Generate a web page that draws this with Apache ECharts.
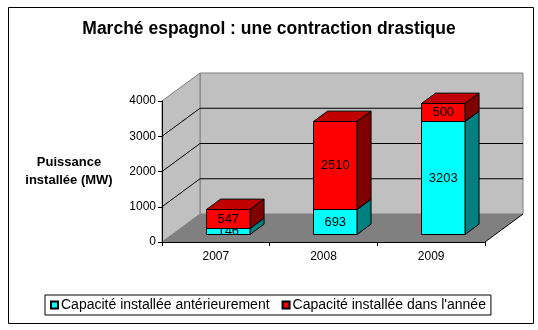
<!DOCTYPE html>
<html>
<head>
<meta charset="utf-8">
<script src="https://cdn.jsdelivr.net/npm/echarts@6/dist/echarts.min.js"></script>
<style>
html,body{margin:0;padding:0;background:#fff;}
#c{width:538px;height:330px;}
</style>
</head>
<body>
<div id="c"></div>
<script>
// ---- data ----
const categories = ['2007', '2008', '2009'];
const anterieur = [146, 693, 3203];
const annee = [547, 2510, 500];
const seriesNames = ['Capacité installée antérieurement', "Capacité installée dans l'année"];
const yTicks = [0, 1000, 2000, 3000, 4000];
const titleText = 'Marché espagnol : une contraction drastique';
const axisTitle = 'Puissance\ninstallée (MW)';

// ---- 3D look parameters (styling) ----
const DX = 38, DY = -28;          // depth of the whole box
const BF = 0.30, BD = 0.37;       // bar front offset & bar depth (fraction of depth)
const BW = 0.40;                  // bar width fraction of band
const FONT = "'Liberation Sans', Arial, sans-serif";

const chart = echarts.init(document.getElementById('c'), null, {renderer: 'canvas'});

function wallsItem(params, api) {
  const cs = params.coordSys;
  const xl = cs.x, xr = cs.x + cs.width;
  const y0 = api.coord([0, yTicks[0]])[1];
  const yTop = api.coord([0, yTicks[yTicks.length - 1]])[1];
  const children = [];
  children.push({type: 'polygon', shape: {points: [[xl + DX, y0 + DY], [xr + DX, y0 + DY], [xr + DX, yTop + DY], [xl + DX, yTop + DY]]},
    style: {fill: '#C0C0C0', stroke: '#808080', lineWidth: 1}});
  children.push({type: 'polygon', shape: {points: [[xl, y0], [xl + DX, y0 + DY], [xl + DX, yTop + DY], [xl, yTop]]},
    style: {fill: '#C0C0C0', stroke: '#808080', lineWidth: 1}});
  children.push({type: 'polygon', shape: {points: [[xl, y0], [xr, y0], [xr + DX, y0 + DY], [xl + DX, y0 + DY]]},
    style: {fill: '#808080', stroke: null}});
  children.push({type: 'line', shape: {x1: xr, y1: y0, x2: xr + DX, y2: y0 + DY}, style: {stroke: '#000', lineWidth: 1}});
  for (let i = 1; i < yTicks.length - 1; i++) {
    const y = api.coord([0, yTicks[i]])[1];
    children.push({type: 'polyline', shape: {points: [[xl, y], [xl + DX, y + DY], [xr + DX, y + DY]]},
      style: {stroke: '#000', lineWidth: 1, fill: null}});
  }
  return {type: 'group', children: children};
}

function makeBarItem(front, top, side) {
  return function (params, api) {
    const cat = api.value(0), base = api.value(1), val = api.value(2);
    const band = api.size([1, 0])[0];
    const c0 = api.coord([cat, base]);
    const c1 = api.coord([cat, base + val]);
    const w = band * BW;
    const ox = DX * BF, oy = DY * BF;
    const dx = DX * BD, dy = DY * BD;
    const x0 = Math.round(c0[0] - w / 2 + ox) + 0.5, x1 = Math.round(x0 + w);
    const yb = Math.round(c0[1] + oy) + 0.5, yt = Math.round(c1[1] + oy) + 0.5;
    const st = {stroke: '#000', lineWidth: 1};
    return {
      type: 'group',
      children: [
        {type: 'polygon', shape: {points: [[x0, yt], [x1, yt], [x1 + dx, yt + dy], [x0 + dx, yt + dy]]}, style: Object.assign({fill: top}, st)},
        {type: 'polygon', shape: {points: [[x1, yb], [x1 + dx, yb + dy], [x1 + dx, yt + dy], [x1, yt]]}, style: Object.assign({fill: side}, st)},
        {type: 'rect', shape: {x: x0, y: yt, width: x1 - x0, height: yb - yt}, style: Object.assign({fill: front}, st)},
        {type: 'text', style: {text: String(val), x: (x0 + x1) / 2, y: (yt + yb) / 2, align: 'center', verticalAlign: 'middle',
          fill: '#000', font: '13px ' + FONT}}
      ]
    };
  };
}

const dataA = categories.map((c, i) => [i, 0, anterieur[i]]);
const dataB = categories.map((c, i) => [i, anterieur[i], annee[i]]);

chart.setOption({
  animation: false,
  backgroundColor: '#fff',
  title: {text: titleText, left: 'center', top: 15,
    textStyle: {fontSize: 17.5, fontWeight: 'bold', color: '#000', fontFamily: FONT}},
  grid: {left: 162, right: 53, top: 101, bottom: 88},
  legend: {
    data: seriesNames, left: 45, top: 295, orient: 'horizontal',
    borderColor: '#000', borderWidth: 1, borderRadius: 0, padding: [3, 5, 3, 5],
    itemWidth: 7, itemHeight: 7, itemGap: 12, icon: 'rect',
    textStyle: {fontSize: 14, color: '#000', fontFamily: FONT, padding: [0, 0, 0, -2]}
  },
  xAxis: {
    type: 'category', data: categories, z: 10,
    axisLine: {lineStyle: {color: '#000', width: 1}},
    axisTick: {show: true, length: 4, lineStyle: {color: '#000'}},
    axisLabel: {color: '#000', fontSize: 12, fontFamily: FONT, margin: 9},
    splitLine: {show: false}
  },
  yAxis: {
    type: 'value', min: 0, max: 4000, interval: 1000, z: 10,
    axisLine: {show: true, lineStyle: {color: '#000', width: 1}},
    axisTick: {show: true, length: 4, lineStyle: {color: '#000'}},
    axisLabel: {color: '#000', fontSize: 12, fontFamily: FONT, margin: 6, formatter: v => String(v)},
    splitLine: {show: false}
  },
  graphic: [
    {type: 'rect', left: 6, top: 5, shape: {width: 525, height: 316}, style: {fill: null, stroke: '#000', lineWidth: 1}, z: 100, silent: true},
    {type: 'text', x: 69, y: 153, style: {text: axisTitle, align: 'center', verticalAlign: 'top', fill: '#000',
      font: 'bold 13px ' + FONT, lineHeight: 18}, z: 100}
  ],
  series: [
    {type: 'custom', name: '_walls', coordinateSystem: 'cartesian2d', data: [[0, 0]], renderItem: wallsItem, silent: true, z: 1},
    {type: 'custom', name: seriesNames[0], coordinateSystem: 'cartesian2d', data: dataA,
      itemStyle: {color: '#00FFFF', borderColor: '#000', borderWidth: 1},
      encode: {x: 0, y: 2}, renderItem: makeBarItem('#00FFFF', '#00FFFF', '#008080'), z: 2},
    {type: 'custom', name: seriesNames[1], coordinateSystem: 'cartesian2d', data: dataB,
      itemStyle: {color: '#FF0000', borderColor: '#000', borderWidth: 1},
      encode: {x: 0, y: 2}, renderItem: makeBarItem('#FF0000', '#C00000', '#800000'), z: 2}
  ]
});
</script>
</body>
</html>
